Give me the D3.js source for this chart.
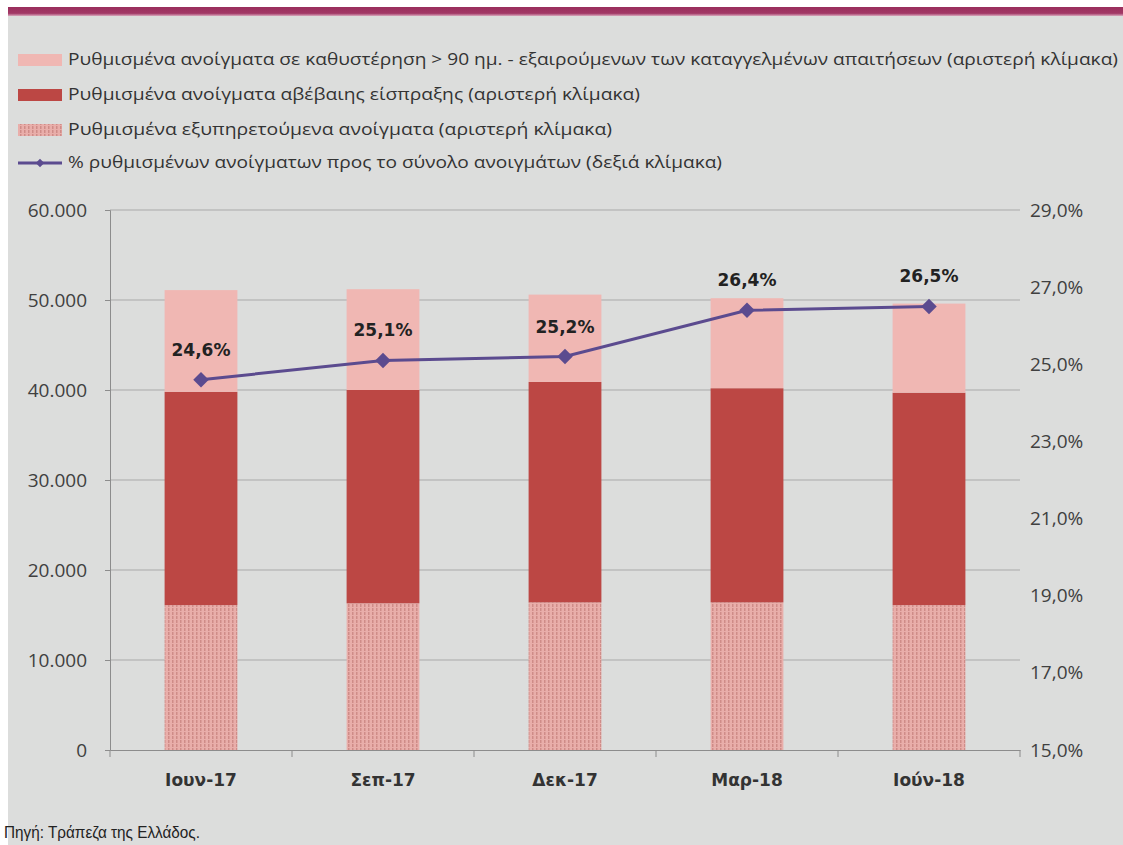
<!DOCTYPE html>
<html>
<head>
<meta charset="utf-8">
<script src="https://cdn.jsdelivr.net/npm/d3@7"></script>
<style>
body { margin: 0; background: #fff; }
svg { display: block; }
</style>
</head>
<body>
<div id="chart"></div>
<script>
var w = 1123;
var h = 845;

// data
var categories = ["Ιουν-17", "Σεπ-17", "Δεκ-17", "Μαρ-18", "Ιούν-18"];
var serviced = [16100, 16300, 16400, 16400, 16100];   // hatched
var uncertain = [23700, 23700, 24500, 23800, 23600];  // dark red
var overdue = [11300, 11200, 9700, 10000, 9900];      // light pink
var share = [24.6, 25.1, 25.2, 26.4, 26.5];           // right scale, %
var leftTicks = [0, 10000, 20000, 30000, 40000, 50000, 60000];
var rightTicks = [15, 17, 19, 21, 23, 25, 27, 29];
var legendLabels = [
  "Ρυθμισμένα ανοίγματα σε καθυστέρηση > 90 ημ. - εξαιρούμενων των καταγγελμένων απαιτήσεων (αριστερή κλίμακα)",
  "Ρυθμισμένα ανοίγματα αβέβαιης είσπραξης (αριστερή κλίμακα)",
  "Ρυθμισμένα εξυπηρετούμενα ανοίγματα (αριστερή κλίμακα)",
  "% ρυθμισμένων ανοίγματων προς το σύνολο ανοιγμάτων (δεξιά κλίμακα)"
];

var pinkCol = "#f0b7b3";
var redCol = "#bc4744";
var lineCol = "#5b4b8f";

var svg = d3.select("#chart").append("svg")
  .attr("width", w)
  .attr("height", h);

// background + top band
svg.append("rect").attr("x", 8).attr("y", 7).attr("width", w - 8).attr("height", h - 7).attr("fill", "#dcdddc");
var defs = svg.append("defs");
var grad = defs.append("linearGradient").attr("id", "topband").attr("x1", 0).attr("x2", 0).attr("y1", 0).attr("y2", 1);
grad.append("stop").attr("offset", "0%").attr("stop-color", "#9a2e5c");
grad.append("stop").attr("offset", "70%").attr("stop-color", "#a23866");
grad.append("stop").attr("offset", "100%").attr("stop-color", "#d9a8bc");
svg.append("rect").attr("x", 8).attr("y", 7).attr("width", w - 8).attr("height", 9).attr("fill", "url(#topband)");

// hatch pattern
var pat = defs.append("pattern")
  .attr("id", "hatch")
  .attr("patternUnits", "userSpaceOnUse")
  .attr("width", 4).attr("height", 4);
pat.append("rect").attr("width", 4).attr("height", 4).attr("fill", "#e9aeaa");
pat.append("rect").attr("x", 0).attr("width", 1.5).attr("height", 3).attr("fill", "#cf8c88");

var plotL = 110, plotR = 1020, plotT = 210, plotB = 750;

var x = d3.scaleBand().domain(categories).range([plotL, plotR]).paddingInner(0.6).paddingOuter(0.3);
var y = d3.scaleLinear().domain([0, 60000]).range([plotB, plotT]);
var y2 = d3.scaleLinear().domain([15, 29]).range([plotB, plotT]);

// gridlines
svg.append("g")
  .selectAll("line")
  .data(leftTicks.slice(1))
  .enter().append("line")
  .attr("x1", plotL).attr("x2", plotR)
  .attr("y1", function(d) { return y(d); })
  .attr("y2", function(d) { return y(d); })
  .attr("stroke", "#a9a9a9")
  .attr("stroke-width", 1);

// stacked bars
var rows = categories.map(function(c, i) {
  return { cat: c, serviced: serviced[i], uncertain: uncertain[i], overdue: overdue[i] };
});
var stack = d3.stack().keys(["serviced", "uncertain", "overdue"]);
var fills = { serviced: "url(#hatch)", uncertain: redCol, overdue: pinkCol };

svg.append("g")
  .selectAll("g")
  .data(stack(rows))
  .enter().append("g")
  .attr("fill", function(d) { return fills[d.key]; })
  .selectAll("rect")
  .data(function(d) { return d; })
  .enter().append("rect")
  .attr("x", function(d) { return x(d.data.cat); })
  .attr("y", function(d) { return y(d[1]); })
  .attr("width", x.bandwidth())
  .attr("height", function(d) { return y(d[0]) - y(d[1]); });

// left axis
var yAxis = svg.append("g")
  .attr("transform", "translate(" + plotL + ",0)")
  .call(d3.axisLeft(y).tickValues(leftTicks).tickSize(5).tickPadding(18)
    .tickFormat(function(d) { return d3.format(",")(d).replace(/,/g, "."); }));
yAxis.select(".domain").attr("stroke", "#8c8c8c");
yAxis.selectAll(".tick line").attr("stroke", "#8c8c8c");
yAxis.selectAll("text").attr("font-family", "'Open Sans', sans-serif").attr("font-size", 19).attr("fill", "#404040");

// bottom axis
var xAxis = svg.append("g")
  .attr("transform", "translate(0," + plotB + ")")
  .call(d3.axisBottom(x).tickSize(0).tickPadding(24));
xAxis.select(".domain").attr("stroke", "#8c8c8c");
xAxis.selectAll("text")
  .attr("font-family", "'DejaVu Sans', sans-serif").attr("font-weight", "bold")
  .attr("font-size", 17).attr("fill", "#333");
var step = x.step();
xAxis.selectAll(".sep")
  .data(d3.range(categories.length + 1))
  .enter().append("line")
  .attr("x1", function(i) { return plotL + i * step; })
  .attr("x2", function(i) { return plotL + i * step; })
  .attr("y1", 0).attr("y2", 7)
  .attr("stroke", "#8c8c8c");

// right axis (no line)
var y2Axis = svg.append("g")
  .attr("transform", "translate(" + (plotR + 10) + ",0)")
  .call(d3.axisRight(y2).tickValues(rightTicks).tickSize(0).tickPadding(0)
    .tickFormat(function(d) { return d.toFixed(1).replace(".", ",") + "%"; }));
y2Axis.select(".domain").remove();
y2Axis.selectAll("text").attr("font-family", "'Open Sans', sans-serif").attr("font-size", 19).attr("fill", "#404040");

// line + diamonds
var line = d3.line()
  .x(function(d, i) { return x(categories[i]) + x.bandwidth() / 2; })
  .y(function(d) { return y2(d); });
svg.append("path")
  .datum(share)
  .attr("d", line)
  .attr("fill", "none")
  .attr("stroke", lineCol)
  .attr("stroke-width", 3);
svg.append("g")
  .selectAll("path")
  .data(share)
  .enter().append("path")
  .attr("d", d3.symbol().type(d3.symbolSquare).size(120))
  .attr("transform", function(d, i) {
    return "translate(" + (x(categories[i]) + x.bandwidth() / 2) + "," + y2(d) + ") rotate(45)";
  })
  .attr("fill", lineCol);
svg.append("g")
  .selectAll("text")
  .data(share)
  .enter().append("text")
  .attr("x", function(d, i) { return x(categories[i]) + x.bandwidth() / 2; })
  .attr("y", function(d) { return y2(d) - 24; })
  .attr("text-anchor", "middle")
  .attr("font-family", "'DejaVu Sans', sans-serif")
  .attr("font-weight", "bold")
  .attr("font-size", 17)
  .attr("fill", "#222")
  .text(function(d) { return d.toFixed(1).replace(".", ",") + "%"; });

// legend
var legend = svg.append("g").attr("font-family", "'Open Sans', sans-serif").attr("font-size", 15.5).attr("fill", "#333");
var legendY = [60, 95, 130, 163];
var legendW = [1050, 572, 544, 654];
legendLabels.forEach(function(t, i) {
  var g = legend.append("g").attr("transform", "translate(0," + legendY[i] + ")");
  if (i === 0) g.append("rect").attr("x", 18).attr("y", -6).attr("width", 44).attr("height", 12).attr("fill", pinkCol);
  if (i === 1) g.append("rect").attr("x", 18).attr("y", -6).attr("width", 44).attr("height", 12).attr("fill", redCol);
  if (i === 2) g.append("rect").attr("x", 18).attr("y", -6).attr("width", 44).attr("height", 12).attr("fill", "url(#hatch)");
  if (i === 3) {
    g.append("line").attr("x1", 18).attr("x2", 62).attr("y1", 0).attr("y2", 0).attr("stroke", lineCol).attr("stroke-width", 3);
    g.append("path").attr("d", d3.symbol().type(d3.symbolSquare).size(36)).attr("transform", "translate(40,0) rotate(45)").attr("fill", lineCol);
  }
  g.append("text")
    .attr("x", 68).attr("y", 0).attr("dy", "0.35em")
    .attr("textLength", legendW[i]).attr("lengthAdjust", "spacingAndGlyphs")
    .text(t);
});

// source
svg.append("text")
  .attr("x", 4).attr("y", 838)
  .attr("font-family", "'Liberation Sans Narrow', 'Liberation Sans', sans-serif")
  .attr("font-size", 16)
  .attr("fill", "#222")
  .attr("textLength", 196).attr("lengthAdjust", "spacingAndGlyphs")
  .text("Πηγή: Τράπεζα της Ελλάδος.");
</script>
</body>
</html>
